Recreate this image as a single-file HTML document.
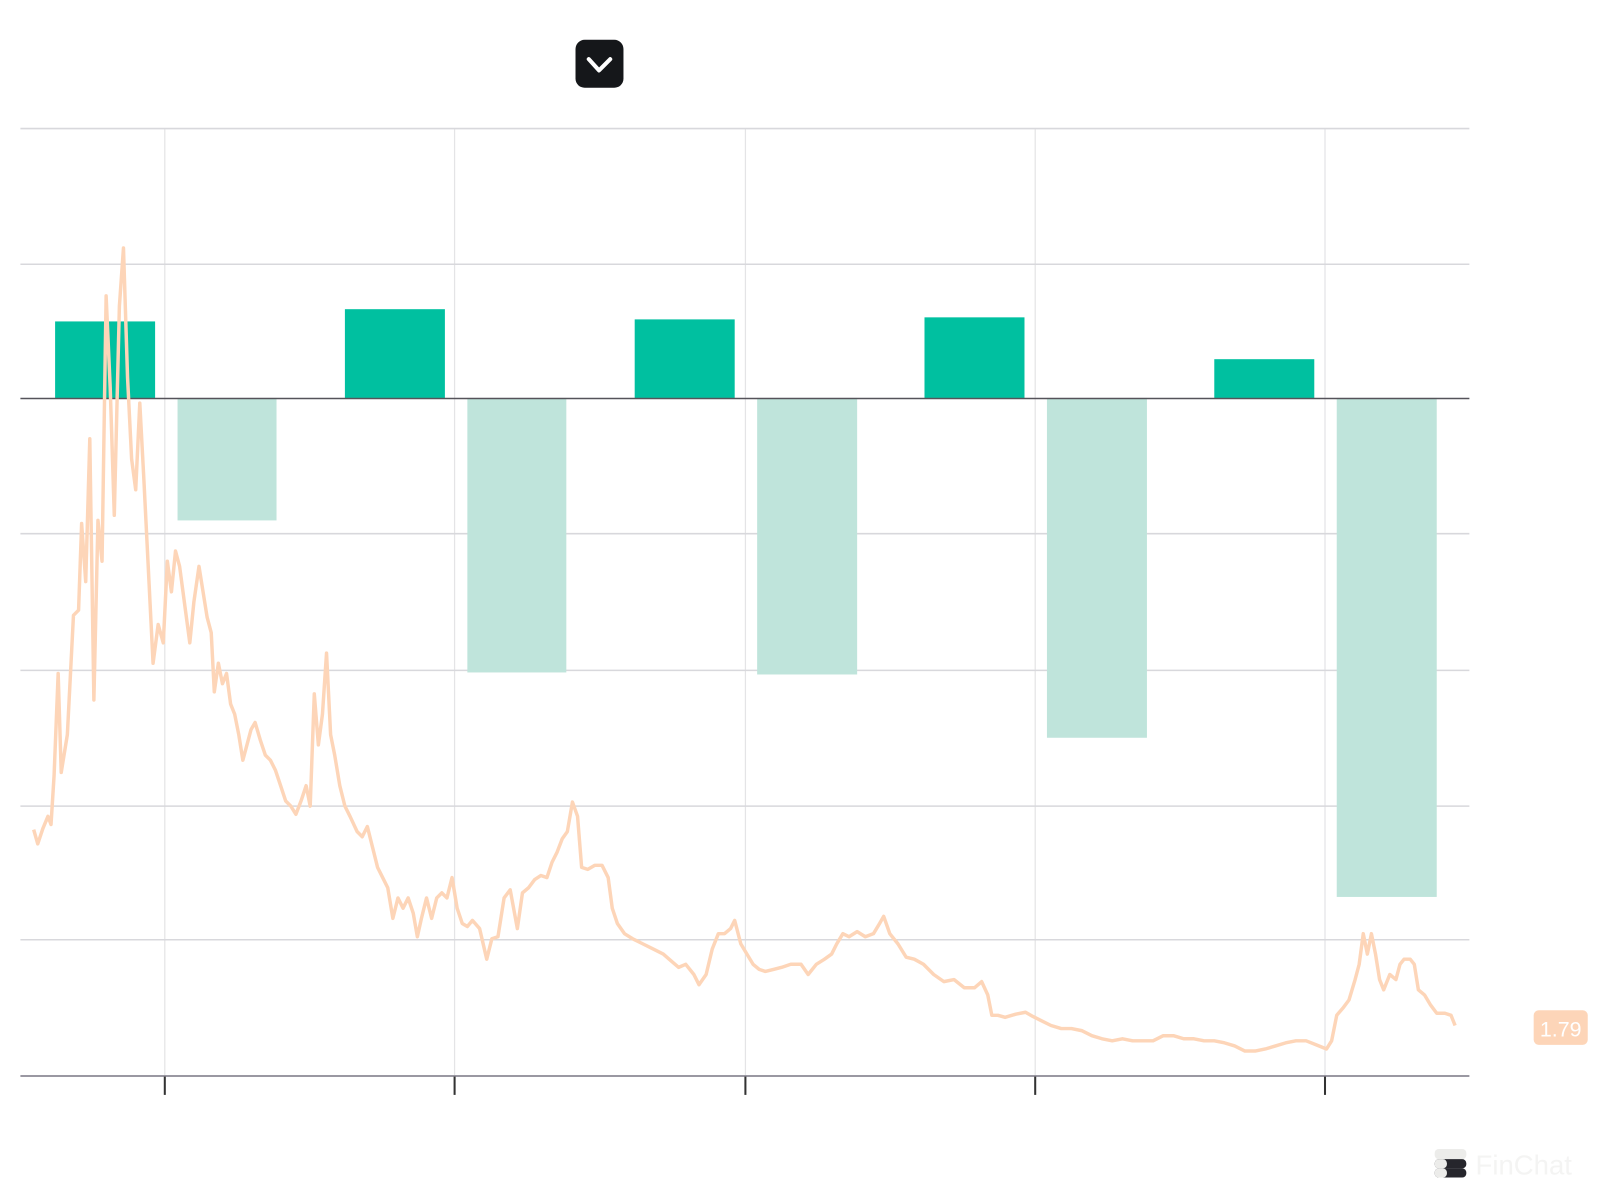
<!DOCTYPE html>
<html><head><meta charset="utf-8"><style>html,body{margin:0;padding:0;background:#fff;}svg{display:block}</style></head>
<body>
<svg width="1600" height="1200" viewBox="0 0 1568 1176" xmlns="http://www.w3.org/2000/svg">
<rect width="1568" height="1176" fill="#fff"/>
<g stroke="#e4e4e6" stroke-width="1.2">
<line x1="161.5" y1="126" x2="161.5" y2="1054"/><line x1="445.5" y1="126" x2="445.5" y2="1054"/><line x1="730.5" y1="126" x2="730.5" y2="1054"/><line x1="1014.5" y1="126" x2="1014.5" y2="1054"/><line x1="1298.5" y1="126" x2="1298.5" y2="1054"/>
</g>
<g stroke="#d8d8dc" stroke-width="1.5">
<line x1="20" y1="126" x2="1440" y2="126"/><line x1="20" y1="259" x2="1440" y2="259"/><line x1="20" y1="523" x2="1440" y2="523"/><line x1="20" y1="657" x2="1440" y2="657"/><line x1="20" y1="790" x2="1440" y2="790"/><line x1="20" y1="921" x2="1440" y2="921"/>
</g>
<g fill="#00c0a0">
<rect x="54" y="315" width="98" height="75"/><rect x="338" y="303" width="98" height="87"/><rect x="622" y="313" width="98" height="77"/><rect x="906" y="311" width="98" height="79"/><rect x="1190" y="352" width="98" height="38"/>
</g>
<g fill="#bfe4db">
<rect x="174" y="390" width="97" height="120"/><rect x="458" y="390" width="97" height="269"/><rect x="742" y="390" width="98" height="271"/><rect x="1026" y="390" width="98" height="333"/><rect x="1310" y="390" width="98" height="489"/>
</g>
<line x1="20" y1="390.5" x2="1440" y2="390.5" stroke="#55535a" stroke-width="1.5"/>
<polyline fill="none" stroke="#fdd5b8" stroke-width="3.4" stroke-linejoin="round" points="33,813 37,827 42,812 47,800 50,808 53,760 57,660 60,757 66,720 72,603 77,598 80,513 84,570 88,430 92,686 96,510 100,550 104,290 108,380 112,505 117,300 121,243 125,370 129,450 133,480 137,395 141,470 145,550 150,650 155,612 160,630 164,550 168,580 172,540 176,555 182,600 186,630 190,590 195,555 199,580 203,605 207,620 210,678 214,650 218,670 222,660 226,690 230,700 234,720 238,745 242,730 246,715 250,708 255,725 260,740 265,745 270,755 275,770 280,785 285,790 290,798 295,785 300,770 304,790 308,680 312,730 316,700 320,640 324,720 328,740 333,770 338,790 343,800 350,815 355,820 360,810 365,830 370,850 375,860 380,870 385,900 390,880 395,890 400,880 405,895 409,918 413,900 418,880 423,900 428,880 433,875 438,880 443,860 448,890 453,905 458,908 463,902 470,910 477,940 482,920 488,918 494,880 500,872 507,910 512,875 518,870 524,862 530,858 536,860 541,845 546,835 551,822 556,815 561,786 566,800 570,850 576,852 583,848 590,848 596,860 600,890 605,905 612,915 620,920 630,925 640,930 650,935 658,942 665,948 672,945 680,955 685,965 692,955 698,930 704,915 710,915 716,910 720,902 726,925 732,935 738,945 744,950 750,952 758,950 766,948 775,945 785,945 792,955 800,945 808,940 815,935 820,925 826,915 832,918 840,913 848,918 856,915 862,905 866,898 872,915 880,925 888,938 896,940 905,945 915,955 925,962 935,960 945,968 955,968 962,962 968,975 972,995 978,995 985,997 995,994 1005,992 1012,996 1020,1000 1030,1005 1040,1008 1050,1008 1060,1010 1070,1015 1080,1018 1090,1020 1100,1018 1110,1020 1120,1020 1130,1020 1140,1015 1150,1015 1160,1018 1170,1018 1180,1020 1190,1020 1200,1022 1210,1025 1220,1030 1230,1030 1240,1028 1250,1025 1260,1022 1270,1020 1280,1020 1290,1024 1300,1028 1305,1020 1310,995 1316,988 1322,980 1328,960 1332,945 1336,915 1340,935 1344,915 1348,935 1352,960 1356,970 1362,955 1368,960 1372,945 1376,940 1382,940 1386,945 1390,970 1396,975 1402,985 1408,993 1416,993 1422,995 1426,1005"/>
<line x1="20" y1="1054.5" x2="1440" y2="1054.5" stroke="#9a98a2" stroke-width="2"/>
<g stroke="#333" stroke-width="2">
<line x1="161.5" y1="1055" x2="161.5" y2="1073"/><line x1="445.5" y1="1055" x2="445.5" y2="1073"/><line x1="730.5" y1="1055" x2="730.5" y2="1073"/><line x1="1014.5" y1="1055" x2="1014.5" y2="1073"/><line x1="1298.5" y1="1055" x2="1298.5" y2="1073"/>
</g>
<rect x="1503" y="990" width="53" height="34" rx="5" fill="#fdd5b8"/>
<text x="1529.5" y="1016" text-anchor="middle" font-family="Liberation Sans, sans-serif" font-size="21" fill="#fff">1.79</text>
<rect x="564" y="39" width="47" height="47" rx="9" fill="#15171a"/>
<polyline points="577,58 587,69 598,58" fill="none" stroke="#fff" stroke-width="4" stroke-linecap="round" stroke-linejoin="round"/>
<g>
<rect x="1406" y="1126" width="31" height="10" rx="4" fill="#ececea"/>
<rect x="1406" y="1136" width="31" height="9" rx="4" fill="#26262c"/>
<rect x="1406" y="1145" width="31" height="9" rx="4" fill="#26262c"/>
<rect x="1406" y="1136" width="12" height="9" rx="4" fill="#ececea"/>
<rect x="1406" y="1145" width="12" height="9" rx="4" fill="#ececea"/>
</g>
<text x="1446" y="1151" font-family="Liberation Sans, sans-serif" font-size="27" fill="#f4f4f3">FinChat</text>
</svg>
</body></html>
